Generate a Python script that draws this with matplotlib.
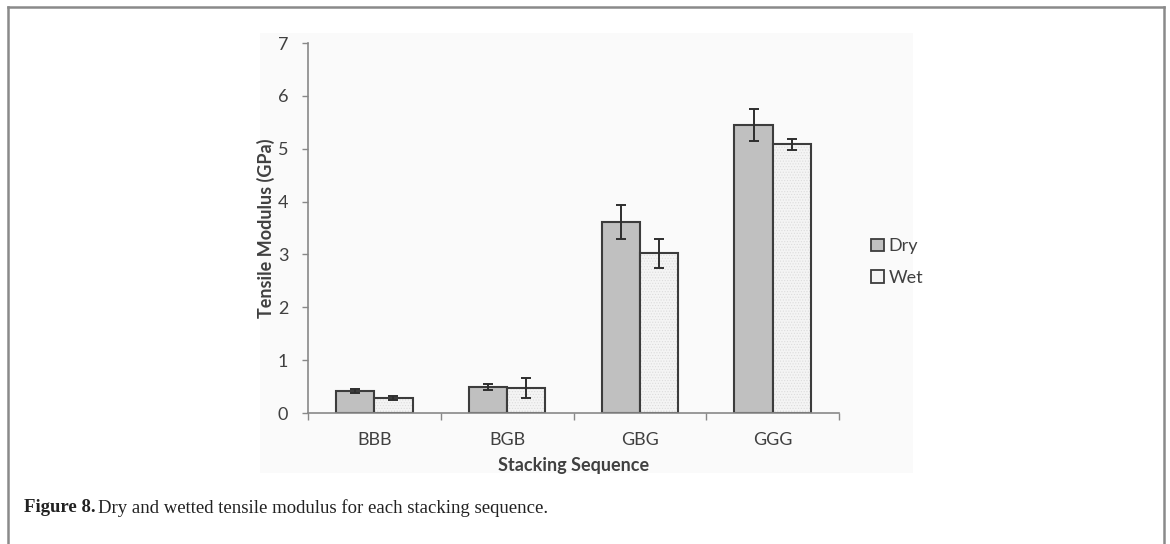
import matplotlib
matplotlib.use("Agg")
import matplotlib.pyplot as plt
from matplotlib.patches import Rectangle
from matplotlib.lines import Line2D
import numpy as np

# Tensile modulus (GPa) per stacking sequence
sequences = ["BBB", "BGB", "GBG", "GGG"]
dry_modulus = [0.42, 0.49, 3.61, 5.45]
dry_err = [0.04, 0.05, 0.32, 0.30]
wet_modulus = [0.29, 0.47, 3.02, 5.08]
wet_err = [0.04, 0.19, 0.28, 0.10]
series_names = ["Dry", "Wet"]
y_ticks = [0, 1, 2, 3, 4, 5, 6, 7]

W, H = 1170, 544
fig = plt.figure(figsize=(W / 100, H / 100), dpi=100)
fig.patch.set_facecolor("white")

# page frame
frame_col = "#8a8a8a"
fig.add_artist(Line2D([8.3 / W, 8.3 / W], [0, 1 - 7.3 / H], transform=fig.transFigure,
                      color=frame_col, lw=1.8))
fig.add_artist(Line2D([1164 / W, 1164 / W], [0, 1 - 7.3 / H], transform=fig.transFigure,
                      color=frame_col, lw=1.8))
fig.add_artist(Line2D([8.3 / W, 1164 / W], [1 - 7.3 / H, 1 - 7.3 / H], transform=fig.transFigure,
                      color=frame_col, lw=1.8))

# faint panel behind the chart
fig.add_artist(Rectangle((260 / W, 1 - 473 / H), (913 - 260) / W, (473 - 33) / H,
                         transform=fig.transFigure, facecolor="#fafafa", edgecolor="none",
                         zorder=0))

ax = fig.add_axes([307.7 / W, 1 - 413 / H, (839.3 - 307.7) / W, (413 - 43) / H])
ax.set_facecolor("none")

font = "Lato"
txt_col = "#404040"
x = np.arange(len(sequences))
bw = 0.289
edge = "#3c3c3c"
dry_face = "#c0c0c0"
wet_face = "#f4f4f4"
wet_dots = "#dcdcdc"

plt.rcParams["hatch.linewidth"] = 0.5
ax.bar(x - bw / 2, dry_modulus, bw, color=dry_face, edgecolor=edge, linewidth=1.5, zorder=2)
# wet bars: light stipple fill, then a dark outline on top
ax.bar(x + bw / 2, wet_modulus, bw, facecolor=wet_face, edgecolor=wet_dots, linewidth=0,
       hatch="......", zorder=2)
ax.bar(x + bw / 2, wet_modulus, bw, facecolor="none", edgecolor=edge, linewidth=1.5, zorder=2.1)

ax.errorbar(x - bw / 2, dry_modulus, yerr=dry_err, fmt="none", ecolor="#2e2e2e",
            elinewidth=1.4, capsize=3.5, capthick=1.4, zorder=3)
ax.errorbar(x + bw / 2, wet_modulus, yerr=wet_err, fmt="none", ecolor="#2e2e2e",
            elinewidth=1.4, capsize=3.5, capthick=1.4, zorder=3)

ax.set_xlim(-0.5, len(sequences) - 0.5)
ax.set_ylim(0, 7)
ax.set_yticks(y_ticks)
ax.set_yticklabels([str(t) for t in y_ticks], fontsize=13, family=font, color=txt_col)
ax.set_xticks(x)
ax.set_xticklabels(sequences, fontsize=13, family=font, color=txt_col)
ax.set_xticks(np.arange(-0.5, len(sequences), 1.0), minor=True)
ax.tick_params(axis="x", which="major", length=0, pad=14)
ax.tick_params(axis="x", which="minor", length=5, width=1, color="#888888", direction="out")
ax.tick_params(axis="y", length=4, width=1, color="#888888", direction="out", pad=10)

for s in ["top", "right"]:
    ax.spines[s].set_visible(False)
for s in ["left", "bottom"]:
    ax.spines[s].set_color("#888888")
    ax.spines[s].set_linewidth(1.2)

ax.set_ylabel("Tensile Modulus (GPa)", fontsize=13, family=font, fontweight="bold",
              color=txt_col, labelpad=2)
ax.set_xlabel("Stacking Sequence", fontsize=13, family=font, fontweight="bold",
              color=txt_col, labelpad=6)

handles = [Rectangle((0, 0), 1, 1, facecolor=dry_face, edgecolor=edge, linewidth=1.3),
           Rectangle((0, 0), 1, 1, facecolor=wet_face, edgecolor=edge, linewidth=1.3)]
leg = ax.legend(handles, series_names, loc="upper left", bbox_to_anchor=(864 / W, 1 - 231 / H),
                bbox_transform=fig.transFigure, frameon=False,
                prop={"family": font, "size": 13}, handlelength=0.7, handleheight=0.7,
                handletextpad=0.25, labelspacing=0.85, borderaxespad=0)
for t in leg.get_texts():
    t.set_color(txt_col)

# caption
cap_size = 13.5
fig.text(24 / W, 1 - 508 / H, "Figure 8.", fontsize=cap_size, family="Liberation Serif",
         fontweight="bold", va="center", ha="left", color="#222222")
fig.text(98 / W, 1 - 508 / H, "Dry and wetted tensile modulus for each stacking sequence.",
         fontsize=cap_size, family="Liberation Serif", va="center", ha="left", color="#222222")

fig.savefig("out.png", dpi=100)
